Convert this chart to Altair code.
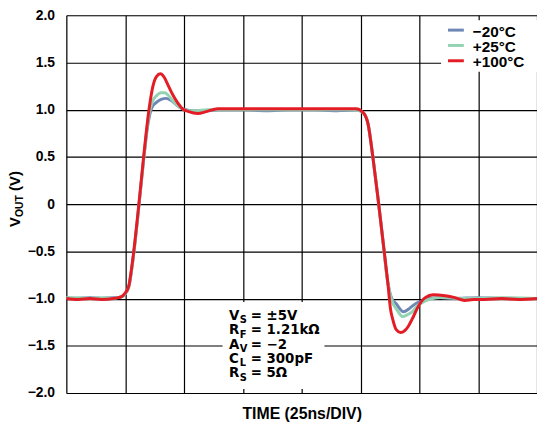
import altair as alt
import pandas as pd

# ---- data ----
series_names = ["\u221220\u00b0C", "+25\u00b0C", "+100\u00b0C"]
series_colors = ["#6f87b6", "#93d2b3", "#e31c25"]

t_blue = [0, 5, 10, 15, 20, 22, 23.5, 25, 26.5, 28.6, 30.7, 32.8, 34.9, 36.3, 38.4, 40.3, 42.4, 44.4, 46.4,
          48.4, 50.8, 53.5, 58, 65, 75, 85, 95, 105, 115, 123.1, 126.1, 128.2, 130.3, 132.4, 134.5, 136.6,
          138.3, 140, 143.3, 145.5, 147, 149.5, 151.3, 154, 158, 165, 175, 185, 200]
v_blue = [-0.99, -1.0, -0.99, -1.0, -0.99, -0.99, -0.98, -0.95, -0.88, -0.53, -0.05, 0.46, 0.88, 1.02, 1.08,
          1.11, 1.12, 1.10, 1.06, 1.02, 1.0, 0.99, 0.99, 1.0, 1.0, 0.99, 1.0, 1.0, 0.99, 1.0, 0.97, 0.85, 0.49,
          0.07, -0.38, -0.83, -1.0, -1.05, -1.14, -1.11, -1.08, -1.04, -1.03, -1.0, -0.99, -1.0, -0.99, -1.0,
          -1.0]

t_green = [0, 5, 10, 15, 20, 22, 23.5, 25, 26.5, 28.6, 30.7, 32.8, 34.9, 36.3, 38.4, 40.3, 41.8, 43.4, 45.4,
           47.4, 49.4, 51.5, 55, 60, 70, 80, 90, 100, 110, 123.1, 126.1, 128.2, 130.3, 132.4, 134.5, 136.6,
           138.3, 140.5, 142.9, 145, 147, 149, 151.3, 154, 159, 170, 185, 200]
v_green = [-0.99, -0.99, -1.0, -0.99, -1.0, -0.99, -0.98, -0.95, -0.88, -0.53, -0.05, 0.46, 0.92, 1.07, 1.15,
           1.18, 1.18, 1.15, 1.09, 1.04, 1.01, 0.99, 0.99, 1.0, 1.0, 1.0, 1.0, 1.0, 1.0, 1.0, 0.97, 0.85, 0.49,
           0.07, -0.38, -0.83, -1.02, -1.12, -1.19, -1.17, -1.14, -1.08, -1.04, -1.01, -0.99, -1.0, -0.99, -1.0]

t_red = [0, 5, 10, 15, 20, 22, 23.5, 24.7, 26.5, 27.5, 28.6, 30.7, 32.8, 34.9, 35.7, 36.8, 38.3, 40, 41.4,
         43.4, 45.4, 47.4, 49.4, 52, 55.9, 59.5, 64.3, 68, 75, 80, 90, 100, 110, 116, 123.1, 126.1, 128.2,
         130.3, 132.4, 134.5, 136.6, 137.8, 138.7, 140.2, 142, 143.8, 145.4, 147.5, 149.6, 152.5, 155.9, 160.9,
         165.1, 169.3, 173, 177.7, 185, 192, 200]
v_red = [-1.0, -1.01, -1.0, -1.01, -1.0, -0.99, -0.98, -0.95, -0.87, -0.72, -0.51, -0.03, 0.49, 0.96, 1.10,
         1.25, 1.35, 1.38, 1.35, 1.25, 1.15, 1.07, 1.01, 0.98, 0.96, 0.98, 1.01, 1.01, 1.01, 1.01, 1.01, 1.01,
         1.01, 1.01, 1.01, 0.97, 0.85, 0.49, 0.07, -0.38, -0.83, -1.12, -1.22, -1.33, -1.36, -1.34, -1.29,
         -1.19, -1.08, -0.99, -0.96, -0.97, -0.99, -1.02, -1.01, -1.01, -1.0, -1.01, -1.0]

y_ticks = [-2.0, -1.5, -1.0, -0.5, 0.0, 0.5, 1.0, 1.5, 2.0]
x_ticks = [0, 25, 50, 75, 100, 125, 150, 175, 200]

ann_main = ["V", "R", "A", "C", "R"]
ann_sub = ["S", "F", "V", "L", "S"]
ann_rest = ["= \u00b15V", "= 1.21k\u03a9", "= \u22122", "= 300pF", "= 5\u03a9"]

# ---- build chart ----
FONT = "Liberation Sans"
ANN_FONT = "DejaVu Sans"

color_scale = alt.Scale(domain=series_names, range=series_colors)

x_enc = alt.X("t:Q", scale=alt.Scale(domain=[0, 200], nice=False),
              axis=alt.Axis(values=x_ticks, labels=False, ticks=False, domain=False,
                            title="TIME (25ns/DIV)", titleFont=FONT, titleFontSize=16,
                            titleFontWeight="bold", titleColor="black", titlePadding=13,
                            grid=True, gridColor="black", gridWidth=1.2))
y_enc = alt.Y("v:Q", scale=alt.Scale(domain=[-2, 2], nice=False),
              axis=alt.Axis(values=y_ticks, ticks=False, domain=False, title=None,
                            labelExpr="datum.value == 0 ? '0' : replace(format(datum.value, '.1f'), '-', '\u2212')",
                            labelFont=FONT, labelFontSize=14, labelFontWeight="bold", labelColor="black",
                            labelPadding=12, grid=True, gridColor="black", gridWidth=1.2))

one = pd.DataFrame({"k": [0]})

def box(x1, x2, y1, y2):
    return alt.Chart(one).mark_rect(fill="white").encode(
        x=alt.value(x1), x2=alt.value(x2), y=alt.value(y1), y2=alt.value(y2))

layers = [box(379, 476, 5, 57), box(158, 261, 290, 378)]

for name, ts, vs in [(series_names[0], t_blue, v_blue), (series_names[1], t_green, v_green),
                     (series_names[2], t_red, v_red)]:
    df = pd.DataFrame({"t": ts, "v": vs, "series": [name] * len(ts)})
    layers.append(alt.Chart(df).mark_line(strokeWidth=3, interpolate="monotone").encode(
        x=x_enc, y=y_enc,
        color=alt.Color("series:N", scale=color_scale, legend=None)))

# legend (manual, inside the white box)
for i, (name, col) in enumerate(zip(series_names, series_colors)):
    ys = 15 + 15.5 * i
    layers.append(alt.Chart(one).mark_rule(strokeWidth=3, color=col).encode(
        x=alt.value(386), x2=alt.value(402), y=alt.value(ys)))
    layers.append(alt.Chart(one).mark_text(text=name, font=FONT, fontSize=15.5, fontWeight="bold",
                                           align="left", baseline="alphabetic", color="black").encode(
        x=alt.value(411), y=alt.value(ys + 6.5)))

# annotation text
for i in range(len(ann_main)):
    yb = 307.8 + 14.6 * i
    layers.append(alt.Chart(one).mark_text(text=ann_main[i], font=ANN_FONT, fontSize=13.5, fontWeight="bold",
                                           align="left", baseline="alphabetic", color="black").encode(
        x=alt.value(164.5), y=alt.value(yb)))
    layers.append(alt.Chart(one).mark_text(text=ann_sub[i], font=ANN_FONT, fontSize=10, fontWeight="bold",
                                           align="left", baseline="alphabetic", color="black").encode(
        x=alt.value(175.5), y=alt.value(yb + 3.5)))
    layers.append(alt.Chart(one).mark_text(text=ann_rest[i], font=ANN_FONT, fontSize=13.5, fontWeight="bold",
                                           align="left", baseline="alphabetic", color="black").encode(
        x=alt.value(186.5), y=alt.value(yb)))

# y-axis title  V_OUT (V), rotated
for txt, fs, dx, dy in [("V", 15, 0, 0), ("OUT", 10.5, 10, 3), ("(V)", 15, 36.4, 0)]:
    layers.append(alt.Chart(one).mark_text(text=txt, font=FONT, fontSize=fs, fontWeight="bold", angle=270,
                                           align="left", baseline="alphabetic", color="black",
                                           dx=dx, dy=dy).encode(
        x=alt.value(-47), y=alt.value(214)))

chart = alt.layer(*layers).properties(
    width=476, height=382,
    autosize=alt.AutoSizeParams(type="none"),
    padding={"left": 59, "top": 5, "right": 0, "bottom": 30},
).configure_view(stroke="black", strokeWidth=1.5).configure(background="white")

chart.save("out.html", embed_options={"renderer": "svg", "actions": False})
